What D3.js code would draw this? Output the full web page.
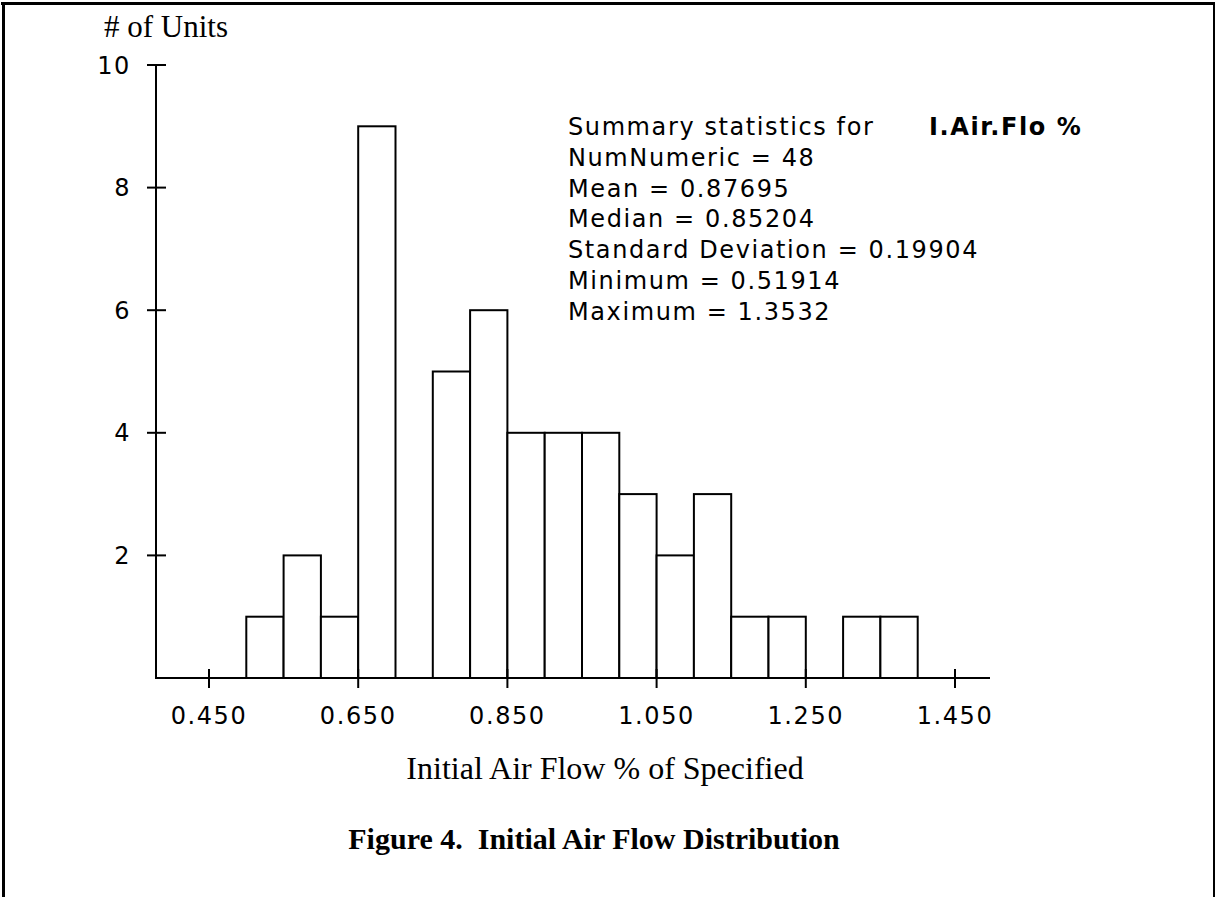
<!DOCTYPE html>
<html>
<head>
<meta charset="utf-8">
<script src="https://cdn.jsdelivr.net/npm/d3@7"></script>
<style>
  html, body { margin: 0; padding: 0; background: #fff; }
  svg { display: block; }
  .geneva { font-family: "DejaVu Sans", sans-serif; font-size: 24px; letter-spacing: 1.6px; fill: #000; }
  .serif { font-family: "Liberation Serif", "Times New Roman", serif; fill: #000; white-space: pre; }
</style>
</head>
<body>
<script>
// Histogram bins of initial air flow (fraction of specified), width 0.05
const binStarts = [0.50, 0.55, 0.60, 0.65, 0.70, 0.75, 0.80, 0.85, 0.90, 0.95,
                   1.00, 1.05, 1.10, 1.15, 1.20, 1.25, 1.30, 1.35];
const binWidth = 0.05;
const counts = [1, 2, 1, 9, 0, 5, 6, 4, 4, 4, 3, 2, 3, 1, 1, 0, 1, 1];

const xTicks = [0.45, 0.65, 0.85, 1.05, 1.25, 1.45];
const yTicks = [2, 4, 6, 8, 10];

const statsLines = [
  "Summary statistics for",
  "NumNumeric = 48",
  "Mean = 0.87695",
  "Median = 0.85204",
  "Standard Deviation = 0.19904",
  "Minimum = 0.51914",
  "Maximum = 1.3532"
];
const statsVariable = "I.Air.Flo %";

const W = 1216, H = 897;
const svg = d3.select("body").append("svg").attr("width", W).attr("height", H);

// frame
svg.append("line").attr("x1", 1).attr("x2", 1215).attr("y1", 3.5).attr("y2", 3.5)
  .attr("stroke", "#000").attr("stroke-width", 3);
svg.append("line").attr("x1", 3.5).attr("x2", 3.5).attr("y1", 2).attr("y2", H)
  .attr("stroke", "#000").attr("stroke-width", 3);
svg.append("line").attr("x1", 1214).attr("x2", 1214).attr("y1", 2).attr("y2", H)
  .attr("stroke", "#000").attr("stroke-width", 2);

const x = d3.scaleLinear().domain([0.45, 1.45]).range([209, 955]);
const y = d3.scaleLinear().domain([0, 10]).range([678, 65]);
const axisX0 = 156;
const axisX1 = 990;

// bars
svg.append("g").selectAll("rect")
  .data(binStarts.map((s, i) => ({ s, c: counts[i] })).filter(d => d.c > 0))
  .join("rect")
  .attr("x", d => x(d.s))
  .attr("y", d => y(d.c))
  .attr("width", d => x(d.s + binWidth) - x(d.s))
  .attr("height", d => y(0) - y(d.c))
  .attr("fill", "#fff")
  .attr("stroke", "#000")
  .attr("stroke-width", 2);

// y axis
svg.append("line").attr("x1", axisX0).attr("x2", axisX0)
  .attr("y1", y(10)).attr("y2", y(0)).attr("stroke", "#000").attr("stroke-width", 2);
const yt = svg.append("g").selectAll("g").data(yTicks).join("g");
yt.append("line").attr("x1", axisX0 - 9).attr("x2", axisX0 + 10)
  .attr("y1", d => y(d)).attr("y2", d => y(d)).attr("stroke", "#000").attr("stroke-width", 2);
yt.append("text").attr("class", "geneva")
  .attr("x", 131).attr("y", d => y(d)).attr("dy", "0.36em")
  .attr("text-anchor", "end").text(d => d);

// x axis
svg.append("line").attr("x1", axisX0 - 1).attr("x2", axisX1)
  .attr("y1", y(0)).attr("y2", y(0)).attr("stroke", "#000").attr("stroke-width", 2);
const xt = svg.append("g").selectAll("g").data(xTicks).join("g");
xt.append("line").attr("x1", d => x(d)).attr("x2", d => x(d))
  .attr("y1", y(0) - 9).attr("y2", y(0) + 10).attr("stroke", "#000").attr("stroke-width", 2);
xt.append("text").attr("class", "geneva")
  .attr("x", d => x(d)).attr("y", 724).attr("text-anchor", "middle")
  .text(d => d3.format(".3f")(d));

// axis titles
svg.append("text").attr("class", "serif").attr("font-size", 31)
  .attr("x", 104).attr("y", 37).text("# of Units");
svg.append("text").attr("class", "serif").attr("font-size", 32)
  .attr("x", 605).attr("y", 779).attr("text-anchor", "middle")
  .text("Initial Air Flow % of Specified");
svg.append("text").attr("class", "serif").attr("font-size", 30).attr("font-weight", "bold")
  .attr("x", 594).attr("y", 849).attr("text-anchor", "middle")
  .text("Figure 4.  Initial Air Flow Distribution");

// summary statistics block
svg.append("g").selectAll("text").data(statsLines).join("text")
  .attr("class", "geneva")
  .attr("x", 568).attr("y", (d, i) => 135 + i * 30.8)
  .text(d => d);
svg.append("text").attr("class", "geneva").attr("font-weight", "bold")
  .attr("x", 929).attr("y", 135).text(statsVariable);
</script>
</body>
</html>
